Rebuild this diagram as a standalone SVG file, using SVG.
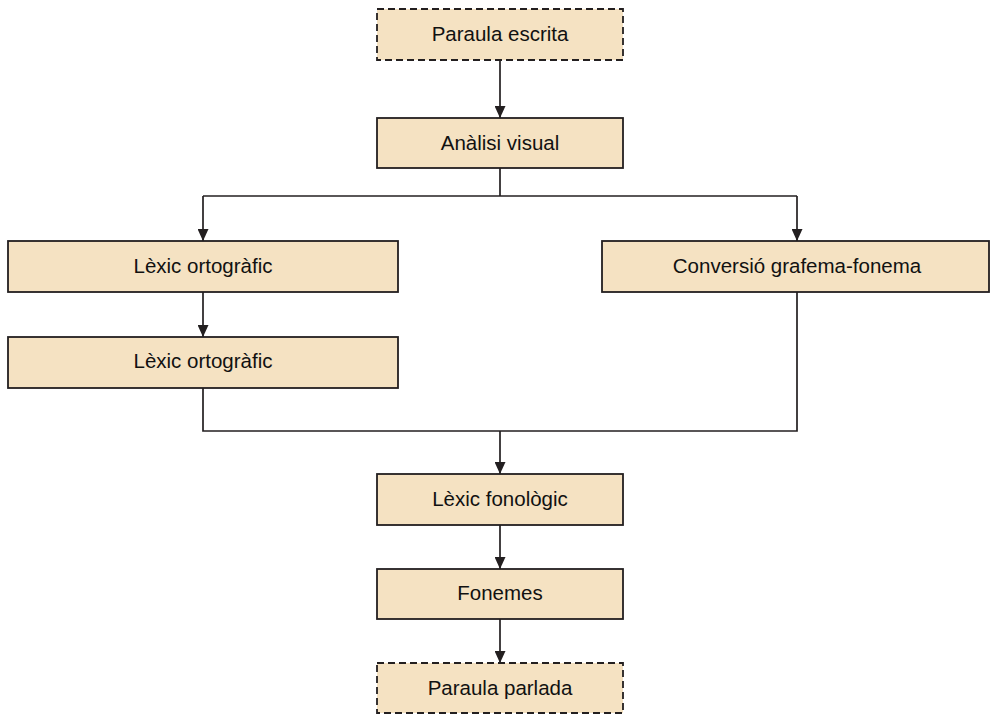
<svg xmlns="http://www.w3.org/2000/svg" width="990" height="714" viewBox="0 0 990 714">
  <defs>
    <style>
      .box { fill: #f5e2c2; stroke: #231f20; stroke-width: 1.8; }
      .dashed { stroke-dasharray: 7 4; }
      .label { font-family: "Liberation Sans", Arial, sans-serif; font-size: 20.5px; fill: #111; text-anchor: middle; }
      .wire { fill: none; stroke: #231f20; stroke-width: 1.7; }
    </style>
    <marker id="arrow" viewBox="0 0 12 11" refX="12" refY="5.5" markerWidth="12" markerHeight="11" markerUnits="userSpaceOnUse" orient="auto">
      <path d="M0,0 L12,5.5 L0,11 Z" fill="#231f20"/>
    </marker>
  </defs>
  <rect width="990" height="714" fill="#ffffff"/>

  <g id="connectors">
    <path class="wire" d="M500,60 V118" marker-end="url(#arrow)"/>
    <path class="wire" d="M500,168 V196"/>
    <path class="wire" d="M203,196 H797"/>
    <path class="wire" d="M203,196 V241" marker-end="url(#arrow)"/>
    <path class="wire" d="M797,196 V241" marker-end="url(#arrow)"/>
    <path class="wire" d="M203,292 V337" marker-end="url(#arrow)"/>
    <path class="wire" d="M203,388 V431 H797 V292"/>
    <path class="wire" d="M500,431 V474" marker-end="url(#arrow)"/>
    <path class="wire" d="M500,525 V569" marker-end="url(#arrow)"/>
    <path class="wire" d="M500,619 V663" marker-end="url(#arrow)"/>
  </g>

  <g id="paraula-escrita">
    <rect class="box dashed" x="377" y="9" width="246" height="51"/>
    <text class="label" x="500" y="41">Paraula escrita</text>
  </g>
  <g id="analisi-visual">
    <rect class="box" x="377" y="118" width="246" height="50"/>
    <text class="label" x="500" y="150">Anàlisi visual</text>
  </g>
  <g id="lexic-ortografic-1">
    <rect class="box" x="8" y="241" width="390" height="51"/>
    <text class="label" x="203" y="273">Lèxic ortogràfic</text>
  </g>
  <g id="conversio">
    <rect class="box" x="602" y="241" width="387" height="51"/>
    <text class="label" x="797" y="273">Conversió grafema-fonema</text>
  </g>
  <g id="lexic-ortografic-2">
    <rect class="box" x="8" y="337" width="390" height="51"/>
    <text class="label" x="203" y="368">Lèxic ortogràfic</text>
  </g>
  <g id="lexic-fonologic">
    <rect class="box" x="377" y="474" width="246" height="51"/>
    <text class="label" x="500" y="506">Lèxic fonològic</text>
  </g>
  <g id="fonemes">
    <rect class="box" x="377" y="569" width="246" height="50"/>
    <text class="label" x="500" y="600">Fonemes</text>
  </g>
  <g id="paraula-parlada">
    <rect class="box dashed" x="377" y="663" width="246" height="50"/>
    <text class="label" x="500" y="695">Paraula parlada</text>
  </g>
</svg>
